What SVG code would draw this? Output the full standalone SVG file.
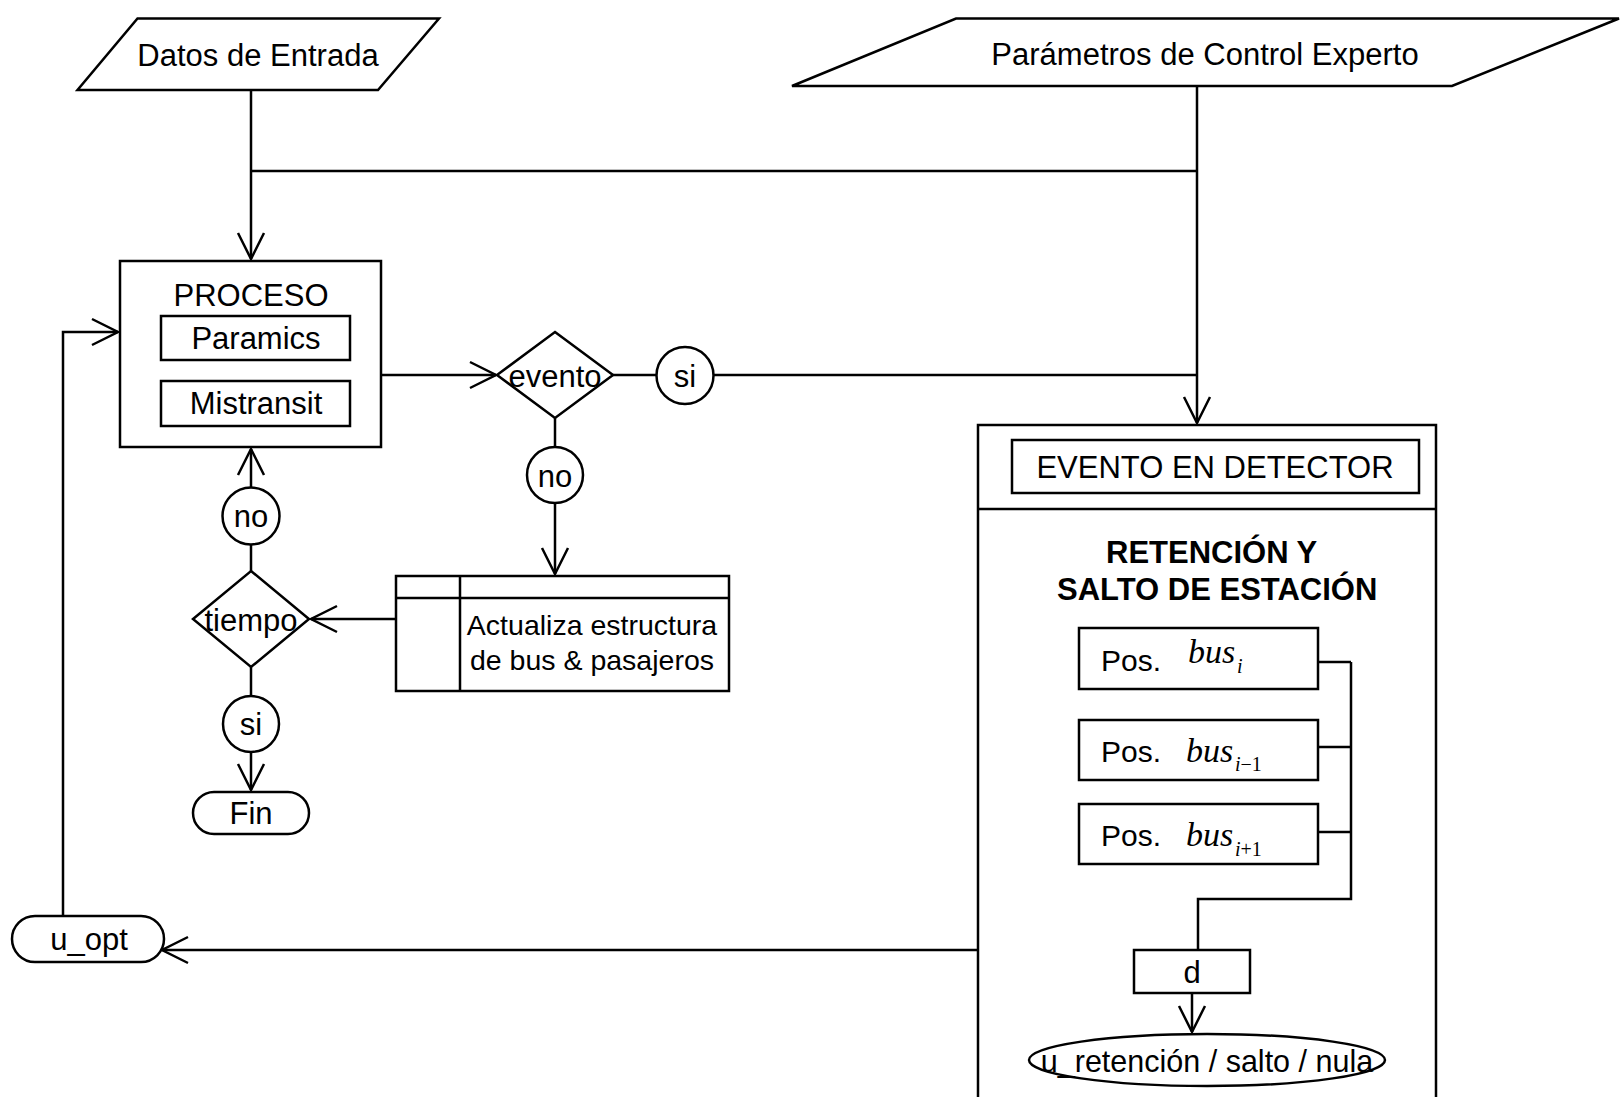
<svg xmlns="http://www.w3.org/2000/svg" width="1621" height="1097" viewBox="0 0 1621 1097">
<style>
.s{fill:#fff;stroke:#000;stroke-width:2.5}
.c{fill:none;stroke:#000;stroke-width:2.5}
.t{font-family:"Liberation Sans",Arial,sans-serif;font-size:31px;fill:#000;text-anchor:middle}
.tb{font-family:"Liberation Sans",Arial,sans-serif;font-size:31px;font-weight:bold;fill:#000}
.m{font-family:"Liberation Serif","Times New Roman",serif;font-style:italic;fill:#000}
</style>
<defs>
<marker id="arr" markerUnits="userSpaceOnUse" markerWidth="40" markerHeight="40" viewBox="-30 -20 40 40" refX="0" refY="0" orient="auto" overflow="visible">
<path d="M-26,-13 L0,0 L-26,13" fill="none" stroke="#000" stroke-width="2.5"/>
</marker>
</defs>
<rect width="1621" height="1097" fill="#fff"/>
<g id="detector">
<path class="c" d="M978,1100 V425 H1436 V1100"/>
<path class="c" d="M978,509 H1436"/>
<rect class="s" x="1012" y="440" width="407" height="53"/>
<text class="t" x="1215" y="478">EVENTO EN DETECTOR</text>
<text class="tb" x="1106" y="563">RETENCIÓN Y</text>
<text class="tb" x="1057" y="600">SALTO DE ESTACIÓN</text>
</g>
<g id="connectors">
<path class="c" d="M251,90 V259" marker-end="url(#arr)"/>
<path class="c" d="M251,171 H1197"/>
<path class="c" d="M1197,86 V423" marker-end="url(#arr)"/>
<path class="c" d="M381,375 H496" marker-end="url(#arr)"/>
<path class="c" d="M612,375 H656"/>
<path class="c" d="M713,375 H1197"/>
<path class="c" d="M555,418 V447"/>
<path class="c" d="M555,503 V574" marker-end="url(#arr)"/>
<path class="c" d="M396,619 H311" marker-end="url(#arr)"/>
<path class="c" d="M251,571 V545"/>
<path class="c" d="M251,488 V449" marker-end="url(#arr)"/>
<path class="c" d="M251,667 V696"/>
<path class="c" d="M251,752 V790" marker-end="url(#arr)"/>
<path class="c" d="M978,950 H162" marker-end="url(#arr)"/>
<path class="c" d="M63,918 V332 H118" marker-end="url(#arr)"/>
<path class="c" d="M1318,662 H1351 M1318,747 H1351 M1318,832 H1351 M1351,662 V899 H1198 V950"/>
<path class="c" d="M1192,993 V1032" marker-end="url(#arr)"/>
</g>
<g id="datos">
<polygon class="s" points="137.5,18.5 439,18.5 378,90 77.5,90"/>
<text class="t" x="258" y="66">Datos de Entrada</text>
</g>
<g id="parametros">
<polygon class="s" points="956,18.5 1619,18.5 1452,86 792,86"/>
<text class="t" x="1205" y="65">Parámetros de Control Experto</text>
</g>
<g id="proceso">
<rect class="s" x="120" y="261" width="261" height="186"/>
<text class="t" x="251" y="306">PROCESO</text>
<rect class="s" x="161" y="316" width="189" height="44"/>
<text class="t" x="256" y="349">Paramics</text>
<rect class="s" x="161" y="381" width="189" height="45"/>
<text class="t" x="256" y="414">Mistransit</text>
</g>
<g id="evento">
<polygon class="s" points="555,332 613,375 555,418 497,375"/>
<text class="t" x="555" y="387">evento</text>
</g>
<g id="si1">
<circle class="s" cx="685" cy="375.5" r="28.5"/>
<text class="t" x="685" y="387">si</text>
</g>
<g id="no1">
<circle class="s" cx="555" cy="475" r="28"/>
<text class="t" x="555" y="487">no</text>
</g>
<g id="actualiza">
<rect class="s" x="396" y="576" width="333" height="115"/>
<path class="c" d="M396,598 H729 M460,576 V691"/>
<text class="t" x="592" y="635" style="font-size:28.5px">Actualiza estructura</text>
<text class="t" x="592" y="670" style="font-size:28.5px">de bus &amp; pasajeros</text>
</g>
<g id="tiempo">
<polygon class="s" points="251,571 309,619 251,667 193,619"/>
<text class="t" x="251" y="631">tiempo</text>
</g>
<g id="no2">
<circle class="s" cx="251" cy="516" r="28.5"/>
<text class="t" x="251" y="527">no</text>
</g>
<g id="si2">
<circle class="s" cx="251" cy="724" r="28"/>
<text class="t" x="251" y="735">si</text>
</g>
<g id="fin">
<rect class="s" x="193" y="792" width="116" height="42" rx="21"/>
<text class="t" x="251" y="824">Fin</text>
</g>
<g id="uopt">
<rect class="s" x="12" y="916" width="152" height="46" rx="23"/>
<text class="t" x="89" y="950">u_opt</text>
</g>
<g id="pos1">
<rect class="s" x="1079" y="628" width="239" height="61"/>
<text class="t" x="1101" y="671" style="text-anchor:start;font-size:30px">Pos.</text>
<text class="m" x="1188" y="663" font-size="34">bus</text>
<text class="m" x="1237" y="673" font-size="20">i</text>
</g>
<g id="pos2">
<rect class="s" x="1079" y="720" width="239" height="60"/>
<text class="t" x="1101" y="762" style="text-anchor:start;font-size:30px">Pos.</text>
<text class="m" x="1186" y="762" font-size="34">bus</text>
<text class="m" x="1235" y="771" font-size="20">i<tspan font-style="normal">−1</tspan></text>
</g>
<g id="pos3">
<rect class="s" x="1079" y="804" width="239" height="60"/>
<text class="t" x="1101" y="846" style="text-anchor:start;font-size:30px">Pos.</text>
<text class="m" x="1186" y="846" font-size="34">bus</text>
<text class="m" x="1235" y="856" font-size="20">i<tspan font-style="normal">+1</tspan></text>
</g>
<g id="d">
<rect class="s" x="1134" y="950" width="116" height="43"/>
<text class="t" x="1192" y="983">d</text>
</g>
<g id="uret">
<ellipse class="s" cx="1207" cy="1060" rx="178" ry="26"/>
<text class="t" x="1207" y="1072" style="font-size:30.5px">u_retención / salto / nula</text>
</g>
</svg>
